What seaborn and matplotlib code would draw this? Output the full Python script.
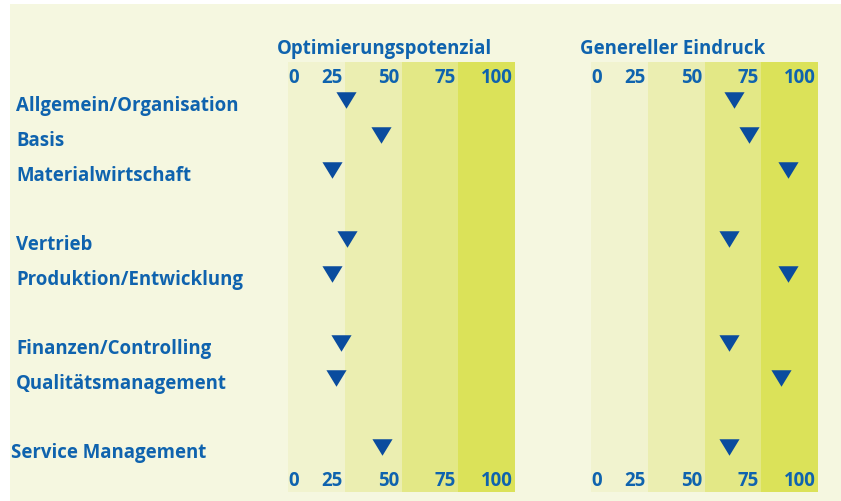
"""
Optimierungspotenzial / Genereller Eindruck – Dreiecks-Skala je Bereich
"""
import numpy as np
import pandas as pd
import matplotlib
matplotlib.use("Agg")
import matplotlib.pyplot as plt
from matplotlib.patches import Rectangle
import seaborn as sns

# ── Daten ────────────────────────────────────────────────────────────────
bereiche = [
    "Allgemein/Organisation", "Basis", "Materialwirtschaft",
    "Vertrieb", "Produktion/Entwicklung",
    "Finanzen/Controlling", "Qualitätsmanagement",
    "Service Management",
]
gruppen = [3, 2, 2, 1]          # Bereiche je Block, danach eine Leerzeile
optimierung = [25.5, 41, 19.5, 26, 19.5, 23.5, 21, 41.5]
eindruck    = [63, 69.5, 87, 61, 87, 61, 83.5, 61]
skala = [0, 25, 50, 75, 100]
titel = ["Optimierungspotenzial", "Genereller Eindruck"]

# ── Stil ─────────────────────────────────────────────────────────────────
BG     = "#f5f7e0"
BANDS  = ["#f1f3cf", "#ebeeb1", "#e3e886", "#dbe259"]
BLUE   = "#0f63ae"
MARKER = "#0a4c9e"

sns.set_theme(style="white")
plt.rcParams["font.family"] = ["Open Sans", "DejaVu Sans"]
FS = 13.4

# Zeilenpositionen aus der Blockstruktur
rows, pos = [], 0
for n in gruppen:
    rows += list(range(pos, pos + n))
    pos += n + 1
df = pd.DataFrame({"bereich": bereiche, "row": rows,
                   "opt": optimierung, "ein": eindruck})

W, H = 841, 502
fig = plt.figure(figsize=(W / 100, H / 100), dpi=100)
fig.patch.set_facecolor("white")
fig.patches.append(Rectangle((10 / W, 0), 1, 1 - 5 / H, transform=fig.transFigure,
                             facecolor=BG, edgecolor="none", zorder=-10))

top_px, bot_px = 63, 493
tri = [(-1, 0.82), (1, 0.82), (0, -0.82)]
ylim = (11.30, -1.11)

panels = [(288, "opt"), (591, "ein")]
for (x0, col), name in zip(panels, titel):
    ax = fig.add_axes([x0 / W, 1 - bot_px / H, 227 / W, (bot_px - top_px) / H])
    ax.set_facecolor("none")
    for lo, hi, c in zip(skala[:-1], skala[1:], BANDS):
        ax.axvspan(lo, hi, color=c, lw=0, zorder=0)
    sns.scatterplot(data=df, x=col, y="row", ax=ax, marker=tri, s=210,
                    color=MARKER, linewidth=0, legend=False, zorder=3)
    ax.set_xlim(skala[0], skala[-1])
    ax.set_ylim(*ylim)
    ax.axis("off")
    for yy in (0.966, 0.027):
        for v in skala:
            ax.text(v + (0 if v == 0 else -1), yy, str(v),
                    transform=ax.get_xaxis_transform(),
                    ha="left" if v == 0 else "right", va="center",
                    fontsize=FS, fontweight="bold", color=BLUE)
    ax.text(-11 / 2.27, 1.032, name, transform=ax.get_xaxis_transform(),
            ha="left", va="center", fontsize=FS, fontweight="bold", color=BLUE)

# Bereichsnamen links
ax0 = fig.axes[0]
for _, r in df.iterrows():
    x_px = 11 if r["bereich"] == "Service Management" else 16
    ax0.text((x_px - 288) / 2.27, r["row"] + 0.14, r["bereich"],
             ha="left", va="center", fontsize=FS, fontweight="bold",
             color=BLUE, clip_on=False)

fig.savefig("out.png", dpi=100, facecolor=fig.get_facecolor())
